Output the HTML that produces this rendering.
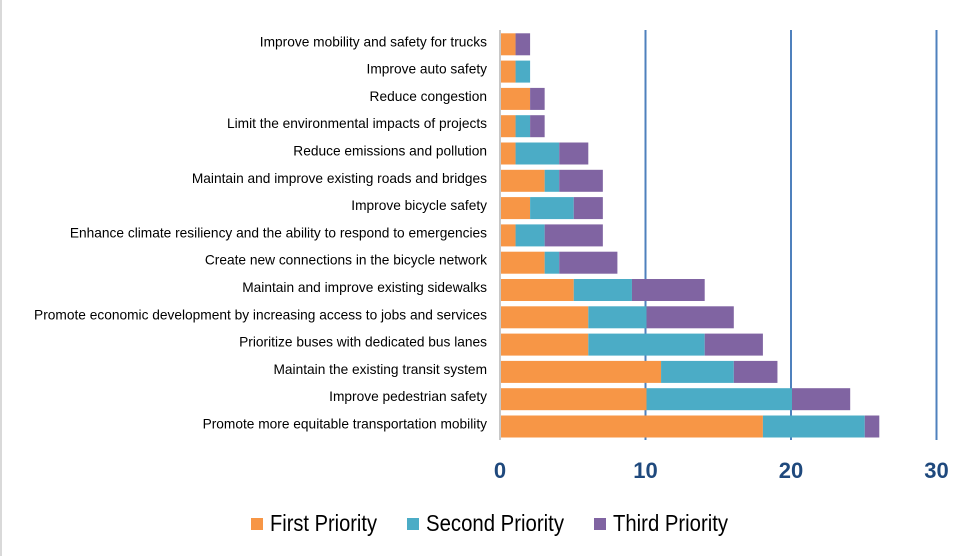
<!DOCTYPE html>
<html><head><meta charset="utf-8"><style>
html,body{margin:0;padding:0;background:#fff;}
svg{display:block;font-family:"Liberation Sans",Arial,sans-serif;}
</style></head><body>
<svg width="970" height="556" viewBox="0 0 970 556" xmlns="http://www.w3.org/2000/svg">
<rect x="0" y="0" width="970" height="556" fill="#fff"/>
<line x1="1" y1="0" x2="1" y2="556" stroke="#d9d9d9" stroke-width="2"/>
<g stroke="#4F81BD" stroke-width="2">
<line x1="645.5" y1="30" x2="645.5" y2="440"/>
<line x1="791" y1="30" x2="791" y2="440"/>
<line x1="936.5" y1="30" x2="936.5" y2="440"/>
</g>
<line x1="500" y1="30" x2="500" y2="440" stroke="#c8c8c8" stroke-width="2"/>
<g id="bars"></g>
<g font-size="14" fill="#000" text-anchor="end" id="labels"></g>
<g font-size="22" font-weight="bold" fill="#1F497D" text-anchor="middle">
<text x="500" y="478">0</text><text x="645.5" y="478">10</text><text x="791" y="478">20</text><text x="936.5" y="478">30</text>
</g>
<g font-size="23" fill="#000">
<rect x="251" y="518" width="12" height="12" fill="#F79646"/>
<text x="270" y="531" textLength="107" lengthAdjust="spacingAndGlyphs">First Priority</text>
<rect x="407" y="518" width="12" height="12" fill="#4BACC6"/>
<text x="426" y="531" textLength="138" lengthAdjust="spacingAndGlyphs">Second Priority</text>
<rect x="594" y="518" width="12" height="12" fill="#8064A2"/>
<text x="613" y="531" textLength="115" lengthAdjust="spacingAndGlyphs">Third Priority</text>
</g>
<script>
var d=[["Improve mobility and safety for trucks",1,0,1],["Improve auto safety",1,1,0],["Reduce congestion",2,0,1],["Limit the environmental impacts of projects",1,1,1],["Reduce emissions and pollution",1,3,2],["Maintain and improve existing roads and bridges",3,1,3],["Improve bicycle safety",2,3,2],["Enhance climate resiliency and the ability to respond to emergencies",1,2,4],["Create new connections in the bicycle network",3,1,4],["Maintain and improve existing sidewalks",5,4,5],["Promote economic development by increasing access to jobs and services",6,4,6],["Prioritize buses with dedicated bus lanes",6,8,4],["Maintain the existing transit system",11,5,3],["Improve pedestrian safety",10,10,4],["Promote more equitable transportation mobility",18,7,1]];
var ns="http://www.w3.org/2000/svg",B=document.getElementById("bars"),L=document.getElementById("labels"),c=["#F79646","#4BACC6","#8064A2"],s=14.55;
d.forEach(function(r,i){var cy=44.3+27.3*i,x=501;for(var k=0;k<3;k++){if(!r[k+1])continue;var e=document.createElementNS(ns,"rect");e.setAttribute("x",x);e.setAttribute("y",cy-11);e.setAttribute("width",r[k+1]*s);e.setAttribute("height",22);e.setAttribute("fill",c[k]);B.appendChild(e);x+=r[k+1]*s;}
var t=document.createElementNS(ns,"text");t.setAttribute("x",0);t.setAttribute("y",0);t.setAttribute("transform","translate(487,"+(cy+2)+") scale(0.98,1)");t.textContent=r[0];L.appendChild(t);});
</script>
</svg>
</body></html>
